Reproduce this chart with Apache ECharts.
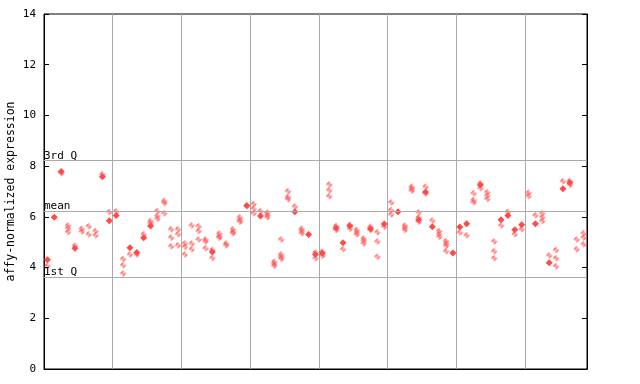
<!DOCTYPE html>
<html>
<head>
<meta charset="utf-8">
<script src="https://cdn.jsdelivr.net/npm/echarts@6/dist/echarts.min.js"></script>
<style>html,body{margin:0;padding:0;background:#fff}#c{width:640px;height:384px}</style>
</head>
<body>
<div id="c"></div>
<script>
// Replicate values per sample column (checkered diamonds)
var replicates = [
  [4.07], [], [7.72], [5.66, 5.55, 5.40], [4.86], [5.53, 5.42], [5.63, 5.31], [5.44, 5.27], [7.68], [6.19],
  [6.22], [4.34, 4.09, 3.77], [4.52], [4.52], [5.31], [5.84, 5.75], [6.23, 6.03, 5.93], [6.63, 6.55, 6.14], [5.51, 5.19, 4.84], [5.51, 5.31, 4.88],
  [4.95, 4.82, 4.52], [5.66, 4.95, 4.72], [5.63, 5.44, 5.11], [5.11, 5.03, 4.76], [4.69, 4.38], [5.34, 5.24, 5.18], [4.95, 4.88], [5.51, 5.41, 5.35], [5.98, 5.88, 5.81], [6.42],
  [6.51, 6.32, 6.14], [6.23], [6.16, 6.07, 5.98], [4.23, 4.15, 4.07], [5.11, 4.52, 4.43, 4.35], [7.01, 6.78, 6.69], [6.41], [5.53, 5.44, 5.35], [], [4.59, 4.37],
  [4.62, 4.47], [7.28, 7.05, 6.81], [5.64, 5.48], [4.72], [5.68, 5.53], [5.48, 5.39, 5.30], [5.15, 5.06, 4.95], [5.61, 5.48], [5.39, 5.03, 4.43], [5.61],
  [6.57, 6.27, 6.09], [], [5.66, 5.57, 5.48], [7.19, 7.11, 7.03], [6.18, 5.97, 5.81], [7.19, 6.93], [5.86], [5.44, 5.32, 5.22], [5.05, 4.95, 4.86, 4.64], [],
  [5.38], [5.27], [6.93, 6.66, 6.58], [7.32, 7.13], [6.97, 6.84, 6.70], [5.03, 4.64, 4.37], [5.66], [6.19], [5.31], [5.51],
  [6.95, 6.82], [6.06], [6.14, 5.98, 5.84], [4.48], [4.69, 4.37, 4.05], [7.40], [7.41, 7.27], [5.11, 4.72], [5.35, 5.19, 4.92]
];
// Solid (overlapping) diamonds per column, null if none
var solid = [
  4.31, 5.98, 7.79, null, 4.76, null, null, null, 7.58, 5.85,
  6.05, null, 4.78, 4.59, 5.18, 5.64, null, null, null, null,
  null, null, null, null, 4.61, null, null, null, null, 6.45,
  null, 6.03, null, null, null, null, 6.20, null, 5.30, 4.52,
  4.56, null, 5.56, 4.98, 5.64, null, null, 5.53, null, 5.72,
  null, 6.20, null, null, 5.89, 6.98, 5.61, null, null, 4.57,
  5.60, 5.73, null, 7.26, null, null, 5.89, 6.05, 5.49, 5.69,
  null, 5.73, null, 4.19, null, 7.11, 7.35, null, null
];
var refLines = [
  {name: '3rd Q', value: 8.23},
  {name: 'mean', value: 6.23},
  {name: '1st Q', value: 3.63}
];
var yTicks = {min: 0, max: 14, interval: 2};
var groupSize = 10;

var categories = replicates.map(function (_, i) { return String(i); });
var repData = [];
replicates.forEach(function (arr, i) { arr.forEach(function (v) { repData.push([String(i), v]); }); });
var solidData = [];
solid.forEach(function (v, i) { if (v !== null) solidData.push([String(i), v]); });

var red = '#ff4a4a';
var pc = document.createElement('canvas');
pc.width = 2; pc.height = 2;
var pctx = pc.getContext('2d');
pctx.fillStyle = red;
pctx.fillRect(0, 0, 1, 1);
pctx.fillRect(1, 1, 1, 1);

var mono = '"DejaVu Sans Mono", monospace';
var chart = echarts.init(document.getElementById('c'), null, {renderer: 'canvas'});
chart.setOption({
  animation: false,
  grid: {left: 44, right: 53, top: 14, bottom: 15, containLabel: false, outerBoundsMode: 'none',
         show: true, borderColor: '#000', borderWidth: 1, backgroundColor: 'transparent'},
  xAxis: [
    {type: 'category', data: categories, boundaryGap: true,
     axisLine: {show: true, lineStyle: {color: '#000', width: 1}}, axisTick: {show: false}, axisLabel: {show: false}, splitLine: {show: false}},
    {type: 'value', min: 0, max: categories.length, interval: groupSize, position: 'bottom',
     axisLine: {show: false}, axisTick: {show: false}, axisLabel: {show: false},
     splitLine: {show: true, showMinLine: false, showMaxLine: false, lineStyle: {color: '#aaaaaa', width: 1}}}
  ],
  yAxis: [
    {type: 'value', min: yTicks.min, max: yTicks.max, interval: yTicks.interval,
     name: 'affy-normalized expression', nameLocation: 'middle', nameGap: 27, nameMoveOverlap: false,
     nameTextStyle: {fontFamily: mono, fontSize: 11.5, color: '#000'},
     axisLine: {show: true, lineStyle: {color: '#000', width: 1}},
     axisTick: {show: true, inside: true, length: 5, lineStyle: {color: '#000'}},
     axisLabel: {fontFamily: mono, fontSize: 11, color: '#000', margin: 8},
     splitLine: {show: false}},
    {type: 'value', min: yTicks.min, max: yTicks.max, interval: yTicks.interval, position: 'right',
     axisLine: {show: true, lineStyle: {color: '#000', width: 1}},
     axisTick: {show: true, inside: true, length: 5, lineStyle: {color: '#000'}},
     axisLabel: {show: false}, splitLine: {show: false}}
  ],
  series: [
    {type: 'scatter', xAxisIndex: 0, yAxisIndex: 0, data: repData, symbol: 'diamond', symbolSize: 7,
     itemStyle: {color: {image: pc, repeat: 'repeat'}, opacity: 1},
     markLine: {silent: true, symbol: 'none', animation: false,
       lineStyle: {color: '#aaaaaa', width: 1, type: 'solid'},
       label: {show: true, position: 'insideStartTop', formatter: '{b}', color: '#000', fontFamily: mono, fontSize: 11, distance: [0, -1], padding: 0},
       emphasis: {disabled: true},
       data: refLines.map(function (r) { return {name: r.name, yAxis: r.value}; })}},
    {type: 'scatter', xAxisIndex: 0, yAxisIndex: 0, data: solidData, symbol: 'diamond', symbolSize: 7,
     itemStyle: {color: red, opacity: 1}}
  ]
});
</script>
</body>
</html>
